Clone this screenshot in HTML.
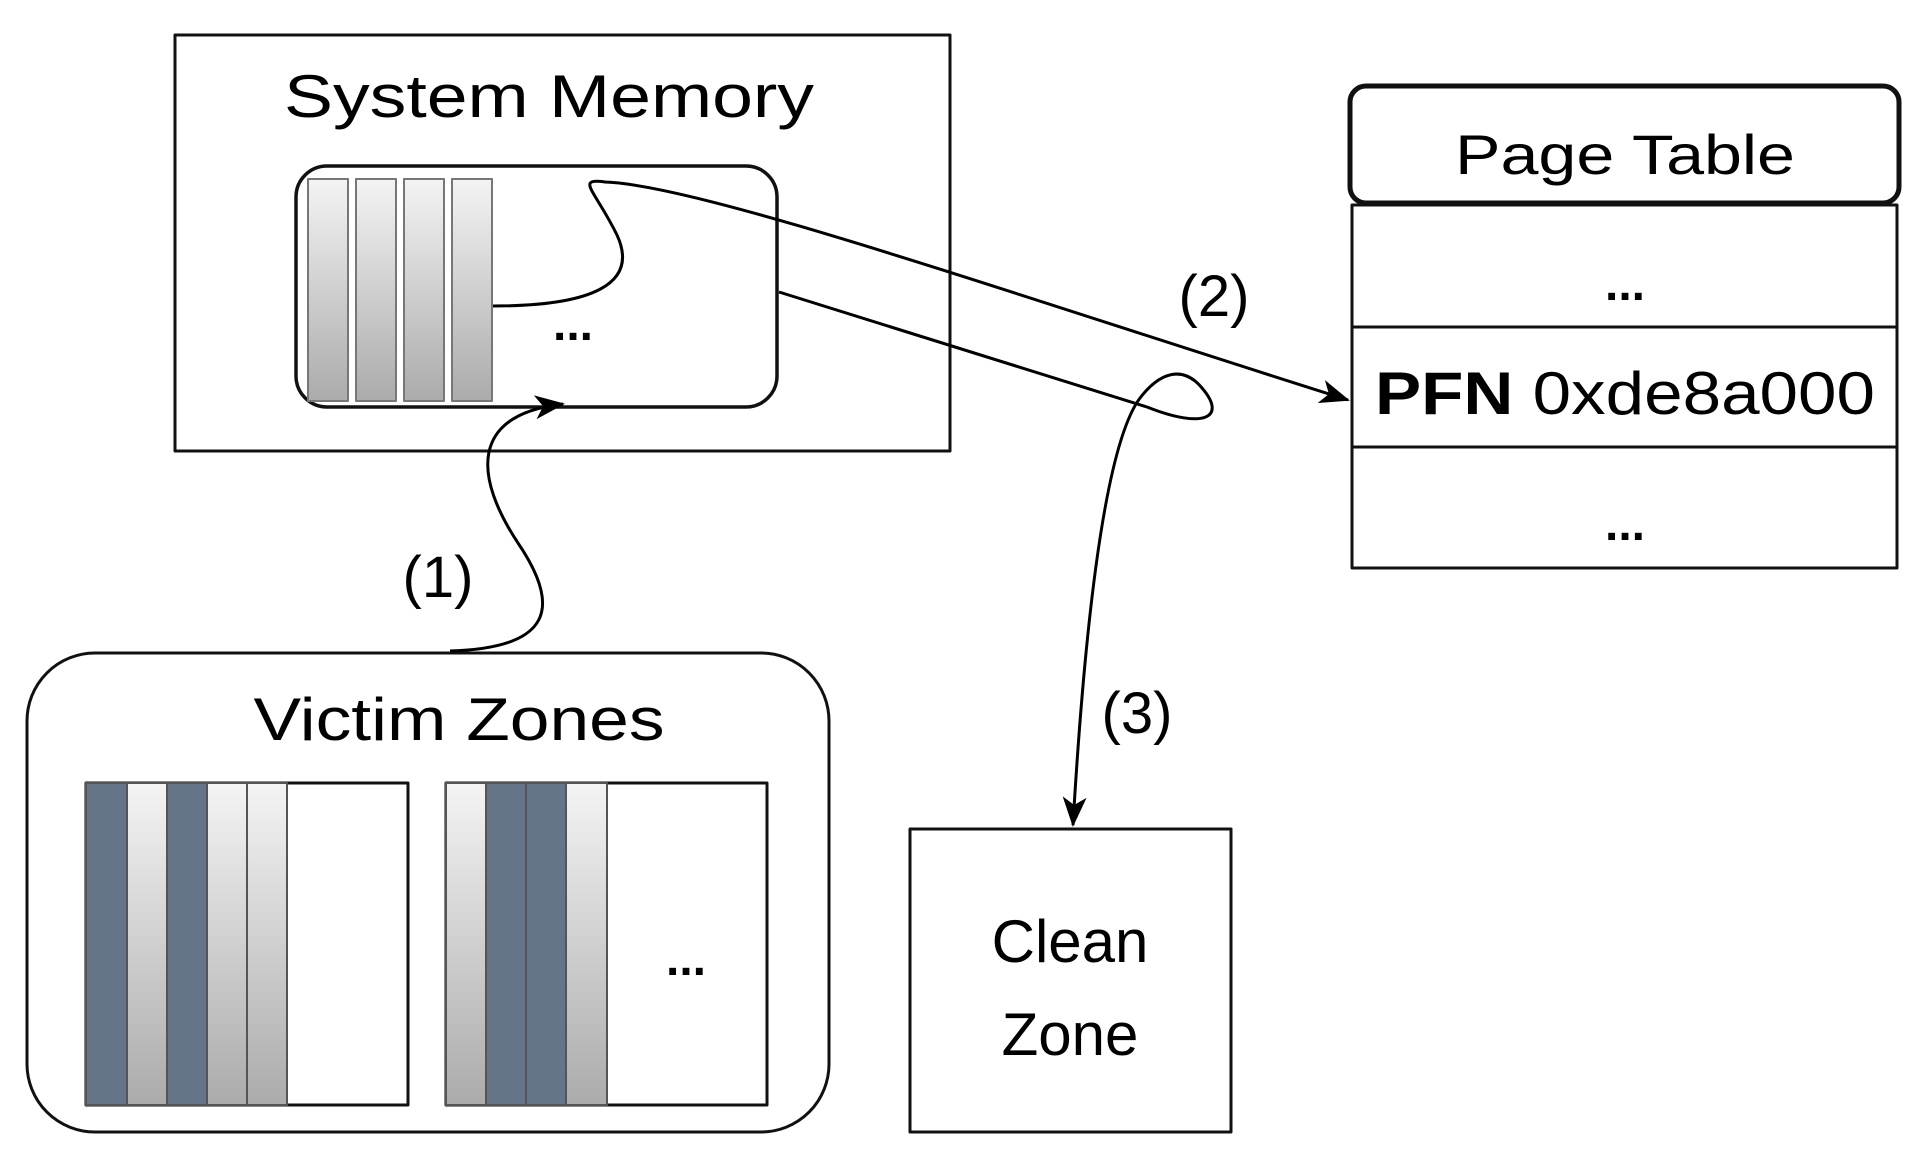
<!DOCTYPE html>
<html><head><meta charset="utf-8"><style>html,body{margin:0;padding:0;background:#fff}svg{display:block}</style></head>
<body>
<svg width="1924" height="1161" viewBox="0 0 1924 1161" xmlns="http://www.w3.org/2000/svg" font-family="'Liberation Sans', sans-serif">
<defs>
<linearGradient id="g" x1="0" y1="0" x2="0" y2="1"><stop offset="0" stop-color="#f4f4f4"/><stop offset="1" stop-color="#ababab"/></linearGradient>
<marker id="ar" markerWidth="30" markerHeight="24" refX="28" refY="12" orient="auto" markerUnits="userSpaceOnUse" viewBox="0 0 30 24"><path d="M0,0 L30,12 L0,24 L8,12 z" fill="#000"/></marker>
</defs>
<g stroke-linejoin="round">
<!-- System Memory -->
<rect x="175" y="35" width="775" height="416" fill="#fff" stroke="#111" stroke-width="3"/>
<text x="549" y="117" font-size="60" text-anchor="middle" textLength="530" lengthAdjust="spacingAndGlyphs">System Memory</text>
<rect x="296" y="166" width="481" height="241" rx="31" fill="#fff" stroke="#111" stroke-width="3.5"/>
<g stroke="#777" stroke-width="2" fill="url(#g)">
<rect x="308" y="179" width="40" height="222"/><rect x="356" y="179" width="40" height="222"/><rect x="404" y="179" width="40" height="222"/><rect x="452" y="179" width="40" height="222"/>
</g>
<text x="573" y="340" font-size="48" font-weight="bold" text-anchor="middle">...</text>

<!-- Page Table -->
<rect x="1350" y="86" width="549" height="117" rx="16" fill="#fff" stroke="#111" stroke-width="5"/>
<text x="1625" y="174" font-size="56" text-anchor="middle" textLength="340" lengthAdjust="spacingAndGlyphs">Page Table</text>
<rect x="1352" y="205" width="545" height="363" fill="#fff" stroke="#111" stroke-width="3"/>
<line x1="1352" y1="327" x2="1897" y2="327" stroke="#111" stroke-width="3"/>
<line x1="1352" y1="447" x2="1897" y2="447" stroke="#111" stroke-width="3"/>
<text x="1625" y="300" font-size="48" font-weight="bold" text-anchor="middle">...</text>
<text x="1625" y="540" font-size="48" font-weight="bold" text-anchor="middle">...</text>
<text x="1625" y="414" font-size="60" text-anchor="middle" textLength="500" lengthAdjust="spacingAndGlyphs"><tspan font-weight="bold">PFN</tspan> 0xde8a000</text>

<!-- Victim Zones -->
<rect x="27" y="653" width="802" height="479" rx="68" fill="#fff" stroke="#111" stroke-width="3"/>
<text x="459" y="740" font-size="60" text-anchor="middle" textLength="411" lengthAdjust="spacingAndGlyphs">Victim Zones</text>
<rect x="86" y="783" width="322" height="322" fill="#fff" stroke="#111" stroke-width="3"/>
<g stroke="#555" stroke-width="2">
<rect x="86" y="783" width="41" height="322" fill="#64758a"/>
<rect x="127" y="783" width="40" height="322" fill="url(#g)"/>
<rect x="167" y="783" width="40" height="322" fill="#64758a"/>
<rect x="207" y="783" width="40" height="322" fill="url(#g)"/>
<rect x="247" y="783" width="40" height="322" fill="url(#g)"/>
</g>
<rect x="446" y="783" width="321" height="322" fill="#fff" stroke="#111" stroke-width="3"/>
<g stroke="#555" stroke-width="2">
<rect x="446" y="783" width="40" height="322" fill="url(#g)"/>
<rect x="486" y="783" width="40" height="322" fill="#64758a"/>
<rect x="526" y="783" width="40" height="322" fill="#64758a"/>
<rect x="566" y="783" width="41" height="322" fill="url(#g)"/>
</g>
<text x="686" y="975" font-size="48" font-weight="bold" text-anchor="middle">...</text>

<!-- Clean Zone -->
<rect x="910" y="829" width="321" height="303" fill="#fff" stroke="#111" stroke-width="3"/>
<text x="1070" y="962" font-size="60" text-anchor="middle">Clean</text>
<text x="1070" y="1055" font-size="60" text-anchor="middle">Zone</text>

<!-- connectors -->
<g fill="none" stroke="#000" stroke-width="3">
<path d="M493,306 C590,306 640,285 617,235 C595,190 575,178 605,182 C700,185 1000,290 1348,400" marker-end="url(#ar)"/>
<path d="M779,292 L1147,407 C1205,430 1227,417 1202,388 C1183,365 1160,372 1140,398 C1105,445 1085,620 1073,825" marker-end="url(#ar)"/>
<path d="M450,651 C555,648 560,605 518,543 C475,478 468,415 563,404" marker-end="url(#ar)"/>
</g>
<text x="438" y="597" font-size="58" text-anchor="middle">(1)</text>
<text x="1214" y="316" font-size="58" text-anchor="middle">(2)</text>
<text x="1137" y="733" font-size="58" text-anchor="middle">(3)</text>
</g>
</svg>
</body></html>
